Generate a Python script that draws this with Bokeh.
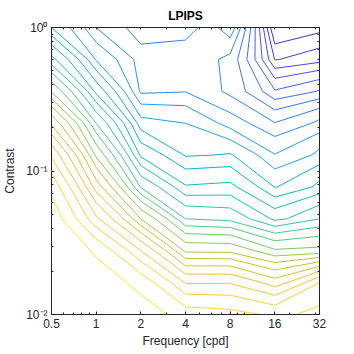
import numpy as np
from bokeh.plotting import figure
from bokeh.models import FixedTicker, LogAxis, Range1d
from bokeh.embed import file_html
from bokeh.resources import INLINE

# grid of spatial frequencies [cpd] and contrasts
frequency = [0.5, 1, 2, 4, 8, 16, 32]
contrast = [0.01, 0.0167, 0.0278, 0.0464, 0.0774, 0.129, 0.215, 0.359, 0.599, 1.0]

# metric value (in contour-level units) per contrast row, across frequency
score_c0100 = [29.5, 29.1, 28.5, 27.5, 27.3, 26.8, 27.3]
score_c0167 = [29.3, 28.6, 27.6, 24.9, 24.9, 23.45, 26.0]
score_c0278 = [29.0, 27.8, 25.0, 20.8, 20.75, 19.15, 19.3]
score_c0464 = [28.6, 25.2, 21.0, 17.0, 16.7, 14.75, 16.0]
score_c0774 = [27.7, 22.5, 16.9, 14.1, 14.25, 11.95, 13.3]
score_c1290 = [25.8, 19.8, 13.8, 11.9, 12.1, 10.05, 11.3]
score_c2150 = [22.8, 17.0, 11.4, 11.0, 9.5, 8.05, 9.3]
score_c3590 = [18.9, 13.7, 8.8, 8.95, 7.7, 5.1, 6.1]
score_c5990 = [15.3, 10.9, 8.5, 8.6, 7.7, 1.95, 2.6]
score_c10000 = [12.0, 9.0, 7.3, 7.5, 9.8, -0.3, 0.6]

levels = list(range(1, 29))

x_ticks = [0.5, 1, 2, 4, 8, 16, 32]
x_tick_labels = ["0.5", "1", "2", "4", "8", "16", "32"]
y_ticks = [0.01, 0.1, 1]
y_tick_labels = ["10\u207b\u00b2", "10\u207b\u00b9", "10\u2070"]
x_minor = [0.6, 0.7, 0.8, 0.9, 3, 5, 6, 7, 9, 10, 20, 30]
y_minor = [0.02, 0.03, 0.04, 0.05, 0.06, 0.07, 0.08, 0.09,
           0.2, 0.3, 0.4, 0.5, 0.6, 0.7, 0.8, 0.9]

# parula colormap anchors
PARULA = [
    (0.2422, 0.1504, 0.6603), (0.2706, 0.2147, 0.8364), (0.2813, 0.3006, 0.9414),
    (0.2699, 0.3892, 0.9906), (0.1963, 0.4847, 0.9892), (0.1248, 0.6459, 0.8883),
    (0.0036, 0.7203, 0.7917), (0.1717, 0.7670, 0.6554), (0.3406, 0.8008, 0.4789),
    (0.6174, 0.7876, 0.2612), (0.8203, 0.7498, 0.1535), (0.9728, 0.7298, 0.2394),
    (0.9892, 0.8136, 0.1885), (0.9597, 0.9135, 0.1423), (0.9769, 0.9839, 0.0805),
]
PARULA_POS = [0, 4, 8, 12, 16, 24, 29, 34, 39, 44, 48, 52, 56, 60, 63]


def parula(t):
    t = min(max(t, 0.0), 1.0) * 63
    r = np.interp(t, PARULA_POS, [c[0] for c in PARULA])
    g = np.interp(t, PARULA_POS, [c[1] for c in PARULA])
    b = np.interp(t, PARULA_POS, [c[2] for c in PARULA])
    return "#%02x%02x%02x" % (int(round(r * 255)), int(round(g * 255)), int(round(b * 255)))


Z = np.array([score_c0100, score_c0167, score_c0278, score_c0464, score_c0774,
              score_c1290, score_c2150, score_c3590, score_c5990, score_c10000])
zmin, zmax = Z.min(), Z.max()
colors = [parula((lv - zmin) / (zmax - zmin)) for lv in levels]

FONT = "Liberation Sans"
AX = "#262626"

p = figure(width=354, height=354, x_axis_type="log", y_axis_type="log",
           x_range=Range1d(0.5, 32), y_range=Range1d(0.01, 1),
           output_backend="svg", toolbar_location=None,
           min_border_left=47, min_border_right=35, min_border_top=27,
           min_border_bottom=40, background_fill_color="white",
           border_fill_color="white")

p.contour(x=frequency, y=contrast, z=Z, levels=levels,
          line_color=colors, line_width=1)

p.title.text = "LPIPS"
p.title.align = "center"
p.title.text_font = FONT
p.title.text_font_size = "12px"
p.title.text_font_style = "bold"
p.title.text_color = "black"

p.xgrid.visible = False
p.ygrid.visible = False
p.outline_line_color = AX
p.outline_line_width = 1

for ax in (p.xaxis[0], p.yaxis[0]):
    ax.major_tick_in = 3
    ax.major_tick_out = 0
    ax.minor_tick_in = 2
    ax.minor_tick_out = 0
    ax.axis_line_color = AX
    ax.major_tick_line_color = AX
    ax.minor_tick_line_color = AX
    ax.major_label_text_font = FONT
    ax.major_label_text_font_size = "12px"
    ax.major_label_text_color = AX
    ax.axis_label_text_font = FONT
    ax.axis_label_text_font_size = "12px"
    ax.axis_label_text_font_style = "normal"
    ax.axis_label_text_color = AX

p.xaxis.ticker = FixedTicker(ticks=x_ticks, minor_ticks=x_minor)
p.yaxis.ticker = FixedTicker(ticks=y_ticks, minor_ticks=y_minor)
p.xaxis.major_label_overrides = dict(zip(x_ticks, x_tick_labels))
p.yaxis.major_label_overrides = dict(zip(y_ticks, y_tick_labels))
p.xaxis.axis_label = "Frequency [cpd]"
p.yaxis.axis_label = "Contrast"
p.xaxis.major_label_standoff = 4
p.yaxis.major_label_standoff = 4
p.xaxis.axis_label_standoff = 3
p.yaxis.axis_label_standoff = 6

# tick marks on the top and right edges (box style), no labels
for place, ticks, minor in (("above", x_ticks, x_minor), ("right", y_ticks, y_minor)):
    ax = LogAxis(ticker=FixedTicker(ticks=[], minor_ticks=sorted(ticks + minor)),
                 major_tick_in=0, major_tick_out=0, minor_tick_in=2, minor_tick_out=0,
                 axis_line_color=AX, minor_tick_line_color=AX)
    p.add_layout(ax, place)

open("out.html", "w").write(file_html(p, INLINE))
